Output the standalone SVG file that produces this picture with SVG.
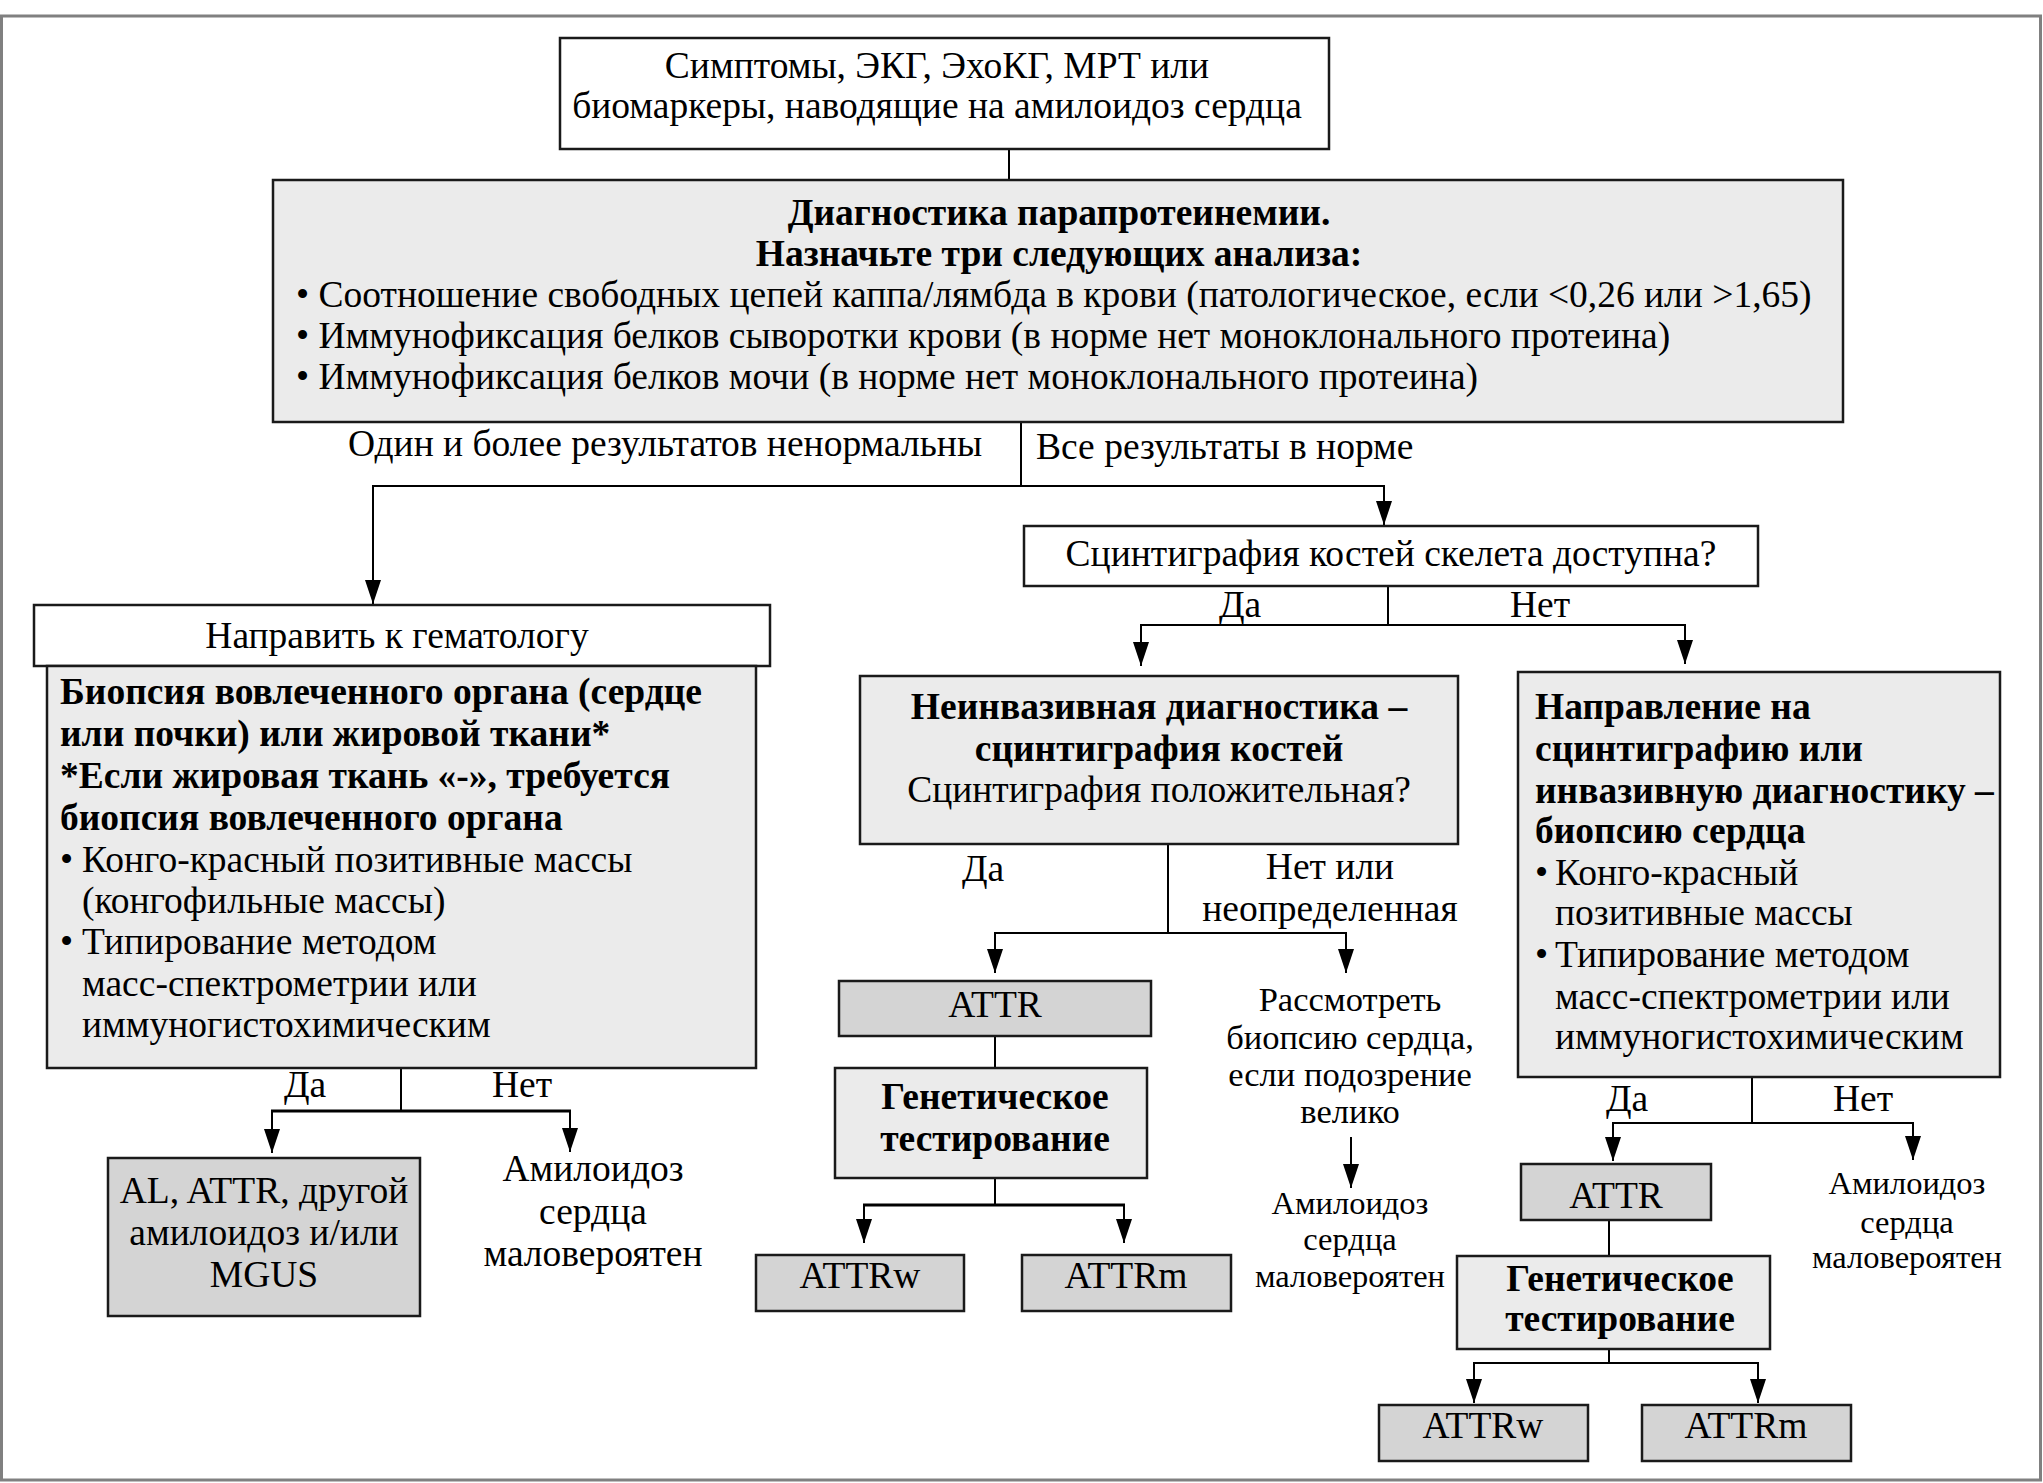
<svg xmlns="http://www.w3.org/2000/svg" width="2043" height="1483" viewBox="0 0 2043 1483">
<defs>
<marker id="ah" viewBox="0 0 24 16" refX="24" refY="8" markerWidth="24" markerHeight="16" markerUnits="userSpaceOnUse" orient="auto">
<path d="M0,0 L24,8 L0,16 z" fill="#000"/>
</marker>
<style>
text{font-family:"Liberation Serif","Times New Roman",serif;fill:#000;}
.t{font-size:37.5px;}
.c{text-anchor:middle;}
.b{font-weight:bold;}
.s{font-size:34.5px;}
.xs{font-size:32.5px;}
.bx{stroke:#1a1a1a;stroke-width:2.5;}
.w{fill:#fff;}
.l{fill:#ebebeb;}
.d{fill:#d4d4d4;}
.cn line,.cn polyline{stroke:#000;stroke-width:2;fill:none;}
.ar{marker-end:url(#ah);}
</style>
</defs>
<rect x="1.5" y="16" width="2039" height="1464" fill="#fff" stroke="#808080" stroke-width="3"/>

<g id="connectors" class="cn">
<line x1="1009" y1="149" x2="1009" y2="180"/>
<line x1="1021" y1="422" x2="1021" y2="486"/>
<line x1="372" y1="486" x2="1385" y2="486"/>
<line class="ar" x1="373" y1="486" x2="373" y2="604"/>
<line class="ar" x1="1384" y1="486" x2="1384" y2="525"/>
<line x1="1388" y1="586" x2="1388" y2="625"/>
<line x1="1140" y1="625" x2="1686" y2="625"/>
<line class="ar" x1="1141" y1="625" x2="1141" y2="666"/>
<line class="ar" x1="1685" y1="625" x2="1685" y2="664"/>
<line x1="401" y1="1068" x2="401" y2="1111"/>
<line x1="271" y1="1111" x2="571" y2="1111" style="stroke-width:3"/>
<line class="ar" x1="272" y1="1111" x2="272" y2="1153"/>
<line class="ar" x1="570" y1="1111" x2="570" y2="1152"/>
<line x1="1168" y1="845" x2="1168" y2="933"/>
<line x1="994" y1="933" x2="1347" y2="933"/>
<line class="ar" x1="995" y1="933" x2="995" y2="973"/>
<line class="ar" x1="1346" y1="933" x2="1346" y2="973"/>
<line x1="995" y1="1036" x2="995" y2="1068"/>
<line x1="995" y1="1178" x2="995" y2="1205"/>
<line x1="863" y1="1205" x2="1125" y2="1205" style="stroke-width:3"/>
<line class="ar" x1="864" y1="1205" x2="864" y2="1243"/>
<line class="ar" x1="1124" y1="1205" x2="1124" y2="1243"/>
<line class="ar" x1="1351" y1="1137" x2="1351" y2="1188"/>
<line x1="1752" y1="1077" x2="1752" y2="1123"/>
<line x1="1612" y1="1123" x2="1914" y2="1123"/>
<line class="ar" x1="1613" y1="1123" x2="1613" y2="1161"/>
<line class="ar" x1="1913" y1="1123" x2="1913" y2="1160"/>
<line x1="1609" y1="1220" x2="1609" y2="1256"/>
<line x1="1609" y1="1349" x2="1609" y2="1363"/>
<line x1="1473" y1="1363" x2="1759" y2="1363"/>
<line class="ar" x1="1474" y1="1363" x2="1474" y2="1403"/>
<line class="ar" x1="1758" y1="1363" x2="1758" y2="1403"/>
</g>

<g id="n-start">
<rect class="bx w" x="560" y="38" width="769" height="111"/>
<text class="t c" x="937" y="78">Симптомы, ЭКГ, ЭхоКГ, МРТ или</text>
<text class="t c" x="937" y="118">биомаркеры, наводящие на амилоидоз сердца</text>
</g>

<g id="n-paraprot">
<rect class="bx l" x="273" y="180" width="1570" height="242"/>
<text class="t c b" x="1059" y="225">Диагностика парапротеинемии.</text>
<text class="t c b" x="1059" y="266">Назначьте три следующих анализа:</text>
<text class="t" x="296" y="307">• Соотношение свободных цепей каппа/лямбда в крови (патологическое, если &lt;0,26 или &gt;1,65)</text>
<text class="t" x="296" y="348">• Иммунофиксация белков сыворотки крови (в норме нет моноклонального протеина)</text>
<text class="t" x="296" y="389">• Иммунофиксация белков мочи (в норме нет моноклонального протеина)</text>
</g>

<g id="lbl-top">
<text class="t c" x="665" y="456">Один и более результатов ненормальны</text>
<text class="t" x="1036" y="459">Все результаты в норме</text>
</g>

<g id="n-hemat">
<rect class="bx w" x="34" y="605" width="736" height="61"/>
<text class="t c" x="397" y="648">Направить к гематологу</text>
</g>

<g id="n-biopsy">
<rect class="bx l" x="47" y="666" width="709" height="402"/>
<text class="t b" x="60" y="704">Биопсия вовлеченного органа (сердце</text>
<text class="t b" x="60" y="746">или почки) или жировой ткани*</text>
<text class="t b" x="60" y="788">*Если жировая ткань «-», требуется</text>
<text class="t b" x="60" y="830">биопсия вовлеченного органа</text>
<text class="t" x="60" y="872">•</text><text class="t" x="82" y="872">Конго-красный позитивные массы</text>
<text class="t" x="82" y="913">(конгофильные массы)</text>
<text class="t" x="60" y="954">•</text><text class="t" x="82" y="954">Типирование методом</text>
<text class="t" x="82" y="996">масс-спектрометрии или</text>
<text class="t" x="82" y="1037">иммуногистохимическим</text>
</g>

<g id="lbl-left">
<text class="t c" x="305" y="1097">Да</text>
<text class="t c" x="522" y="1097">Нет</text>
</g>

<g id="n-al">
<rect class="bx d" x="108" y="1158" width="312" height="158"/>
<text class="t c" x="264" y="1203">AL, ATTR, другой</text>
<text class="t c" x="264" y="1245">амилоидоз и/или</text>
<text class="t c" x="264" y="1287">MGUS</text>
</g>

<g id="n-unlikely1">
<text class="t c" x="593" y="1181">Амилоидоз</text>
<text class="t c" x="593" y="1224">сердца</text>
<text class="t c" x="593" y="1266">маловероятен</text>
</g>

<g id="n-scint">
<rect class="bx w" x="1024" y="526" width="734" height="60"/>
<text class="t c" x="1391" y="566">Сцинтиграфия костей скелета доступна?</text>
</g>

<g id="lbl-scint">
<text class="t c" x="1240" y="617">Да</text>
<text class="t c" x="1540" y="617">Нет</text>
</g>

<g id="n-noninv">
<rect class="bx l" x="860" y="676" width="598" height="168"/>
<text class="t c b" x="1159" y="719">Неинвазивная диагностика –</text>
<text class="t c b" x="1159" y="761">сцинтиграфия костей</text>
<text class="t c" x="1159" y="802">Сцинтиграфия положительная?</text>
</g>

<g id="lbl-mid">
<text class="t c" x="983" y="881">Да</text>
<text class="t c" x="1330" y="879">Нет или</text>
<text class="t c" x="1330" y="921">неопределенная</text>
</g>

<g id="n-attr1">
<rect class="bx d" x="839" y="981" width="312" height="55"/>
<text class="t c" x="995" y="1017">ATTR</text>
</g>

<g id="n-gen1">
<rect class="bx l" x="835" y="1068" width="312" height="110"/>
<text class="t c b" x="995" y="1109">Генетическое</text>
<text class="t c b" x="995" y="1151">тестирование</text>
</g>

<g id="n-attrw1">
<rect class="bx d" x="756" y="1255" width="208" height="56"/>
<text class="t c" x="860" y="1288">ATTRw</text>
</g>

<g id="n-attrm1">
<rect class="bx d" x="1022" y="1255" width="209" height="56"/>
<text class="t c" x="1126" y="1288">ATTRm</text>
</g>

<g id="n-consider">
<text class="s c" x="1350" y="1011">Рассмотреть</text>
<text class="s c" x="1350" y="1049">биопсию сердца,</text>
<text class="s c" x="1350" y="1086">если подозрение</text>
<text class="s c" x="1350" y="1123">велико</text>
</g>

<g id="n-unlikely2">
<text class="xs c" x="1350" y="1214">Амилоидоз</text>
<text class="xs c" x="1350" y="1250">сердца</text>
<text class="xs c" x="1350" y="1287">маловероятен</text>
</g>

<g id="n-invasive">
<rect class="bx l" x="1518" y="672" width="482" height="405"/>
<text class="t b" x="1535" y="719">Направление на</text>
<text class="t b" x="1535" y="761">сцинтиграфию или</text>
<text class="t b" x="1535" y="803">инвазивную диагностику –</text>
<text class="t b" x="1535" y="843">биопсию сердца</text>
<text class="t" x="1535" y="885">•</text><text class="t" x="1555" y="885">Конго-красный</text>
<text class="t" x="1555" y="925">позитивные массы</text>
<text class="t" x="1535" y="967">•</text><text class="t" x="1555" y="967">Типирование методом</text>
<text class="t" x="1555" y="1009">масс-спектрометрии или</text>
<text class="t" x="1555" y="1049">иммуногистохимическим</text>
</g>

<g id="lbl-right">
<text class="t c" x="1627" y="1111">Да</text>
<text class="t c" x="1863" y="1111">Нет</text>
</g>

<g id="n-attr2">
<rect class="bx d" x="1521" y="1164" width="190" height="56"/>
<text class="t c" x="1616" y="1208">ATTR</text>
</g>

<g id="n-unlikely3">
<text class="xs c" x="1907" y="1194">Амилоидоз</text>
<text class="xs c" x="1907" y="1233">сердца</text>
<text class="xs c" x="1907" y="1268">маловероятен</text>
</g>

<g id="n-gen2">
<rect class="bx l" x="1457" y="1256" width="313" height="93"/>
<text class="t c b" x="1620" y="1291">Генетическое</text>
<text class="t c b" x="1620" y="1331">тестирование</text>
</g>

<g id="n-attrw2">
<rect class="bx d" x="1379" y="1405" width="209" height="56"/>
<text class="t c" x="1483" y="1438">ATTRw</text>
</g>

<g id="n-attrm2">
<rect class="bx d" x="1642" y="1405" width="209" height="56"/>
<text class="t c" x="1746" y="1438">ATTRm</text>
</g>
</svg>
